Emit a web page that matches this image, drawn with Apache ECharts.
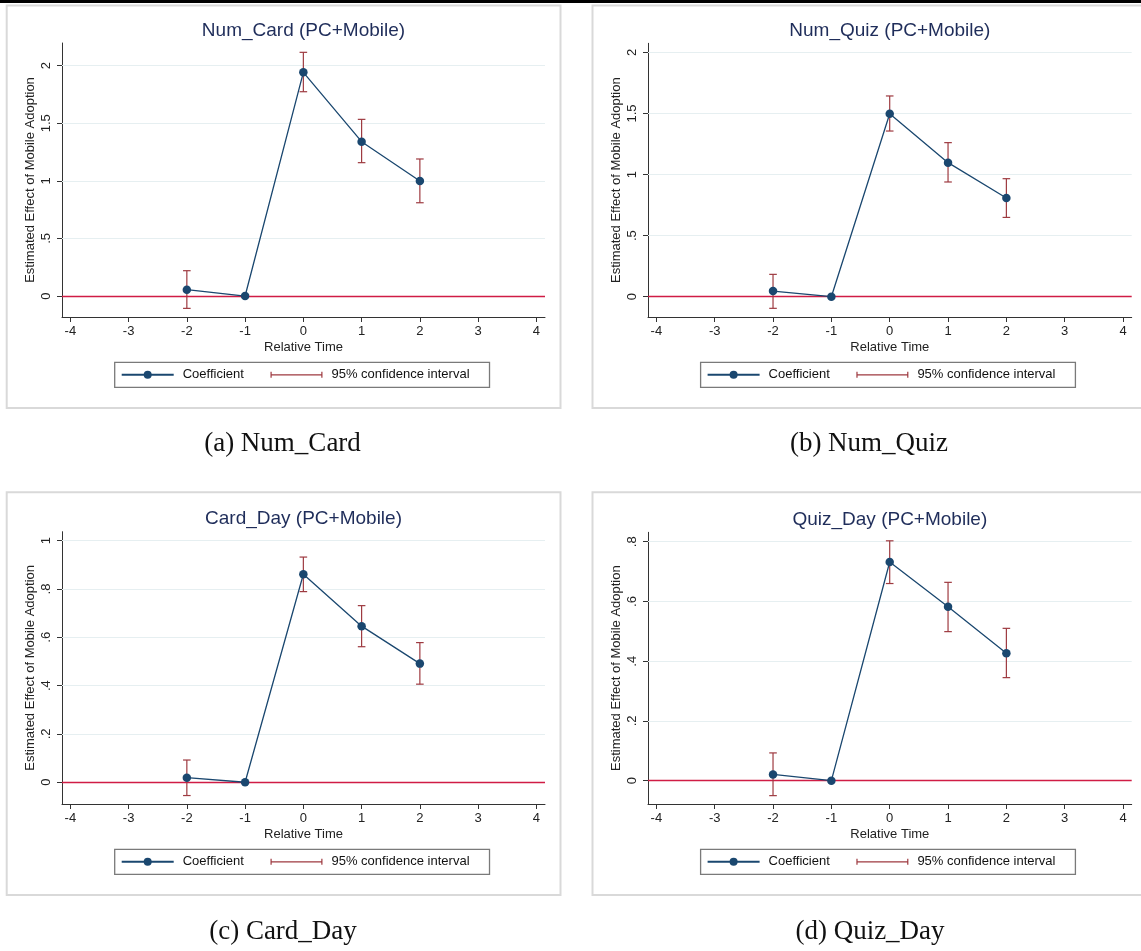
<!DOCTYPE html>
<html><head><meta charset="utf-8">
<script src="https://cdn.jsdelivr.net/npm/echarts@6/dist/echarts.min.js"></script>
<style>html,body{margin:0;padding:0;background:#fff}#c{width:1141px;height:951px}</style>
</head><body><div id="c"></div>
<script>
// ---------- data ----------
const times = [-2, -1, 0, 1, 2];
const xTicks = [-4, -3, -2, -1, 0, 1, 2, 3, 4];
const xAxisName = 'Relative Time';
const yAxisName = 'Estimated Effect of Mobile Adoption';
const seriesNames = ['Coefficient', '95% confidence interval'];

const titles = ['Num_Card (PC+Mobile)', 'Num_Quiz (PC+Mobile)', 'Card_Day (PC+Mobile)', 'Quiz_Day (PC+Mobile)'];
const captions = ['(a) Num_Card', '(b) Num_Quiz', '(c) Card_Day', '(d) Quiz_Day'];

const numCardCoef = [0.055, 0, 1.942, 1.340, 0.999];
const numCardLow  = [-0.107, null, 1.774, 1.158, 0.810];
const numCardHigh = [0.220, null, 2.116, 1.534, 1.190];

const numQuizCoef = [0.046, 0, 1.498, 1.097, 0.808];
const numQuizLow  = [-0.095, null, 1.356, 0.939, 0.649];
const numQuizHigh = [0.183, null, 1.643, 1.261, 0.966];

const cardDayCoef = [0.019, 0, 0.861, 0.646, 0.491];
const cardDayLow  = [-0.055, null, 0.789, 0.561, 0.406];
const cardDayHigh = [0.092, null, 0.932, 0.731, 0.578];

const quizDayCoef = [0.021, 0, 0.732, 0.582, 0.427];
const quizDayLow  = [-0.050, null, 0.660, 0.499, 0.345];
const quizDayHigh = [0.093, null, 0.803, 0.664, 0.510];

const yTicksNum  = [0, 0.5, 1, 1.5, 2];
const yTicksCard = [0, 0.2, 0.4, 0.6, 0.8, 1];
const yTicksQuiz = [0, 0.2, 0.4, 0.6, 0.8];

// ---------- layout / style ----------
const FONT = "'Liberation Sans', Arial, Helvetica, sans-serif";
const SERIF = "'Liberation Serif', 'Times New Roman', serif";
const NAVY = '#1a476f';
const CI = '#9e3a40';
const ZERO = '#d01c45';
const GRIDC = '#e6eff1';
const AXISC = '#333333';

const panels = [
  {coef: numCardCoef, lo: numCardLow, hi: numCardHigh, yTicks: yTicksNum, ymin: -0.182, ymax: 2.197,
   grid: {left: 62, top: 43, width: 483, height: 274}, frame: [6.7, 5.5, 553.8, 402.5],
   legend: {left: 114.7, top: 362.3}, cap: [282.5, 444]},
  {coef: numQuizCoef, lo: numQuizLow, hi: numQuizHigh, yTicks: yTicksNum, ymin: -0.166, ymax: 2.074,
   grid: {left: 648, top: 43.3, width: 483.7, height: 273.7}, frame: [592.5, 5.5, 560, 402.5],
   legend: {left: 700.6, top: 362.3}, cap: [869, 444]},
  {coef: cardDayCoef, lo: cardDayLow, hi: cardDayHigh, yTicks: yTicksCard, ymin: -0.09, ymax: 1.037,
   grid: {left: 62, top: 531.7, width: 483, height: 272.3}, frame: [6.7, 492.3, 553.8, 402.7],
   legend: {left: 114.7, top: 849.3}, cap: [283, 931.7]},
  {coef: quizDayCoef, lo: quizDayLow, hi: quizDayHigh, yTicks: yTicksQuiz, ymin: -0.078, ymax: 0.8315,
   grid: {left: 648, top: 532.3, width: 483.7, height: 271.7}, frame: [592.5, 492.3, 560, 402.7],
   legend: {left: 700.6, top: 849.3}, cap: [870, 931.7]}
];

const fmtY = v => String(+v.toFixed(3)).replace(/^0\./, '.').replace(/^-0\./, '-.');

const option = {
  animation: false,
  backgroundColor: '#fff',
  title: [], grid: [], xAxis: [], yAxis: [], legend: [], series: [],
  graphic: [
    {type: 'rect', shape: {x: 0, y: 0, width: 1141, height: 3}, style: {fill: '#000'}, z: 10}
  ]
};

panels.forEach((p, i) => {
  const g = p.grid;
  option.grid.push({left: g.left, top: g.top, width: g.width, height: g.height, containLabel: false});
  option.title.push({
    text: titles[i], left: g.left + g.width / 2, top: g.top - 22, textAlign: 'center', padding: 0,
    textStyle: {fontFamily: FONT, fontSize: 19, fontWeight: 'normal', color: '#1f2d5a'}
  });
  option.xAxis.push({
    type: 'value', gridIndex: i, min: -4.143, max: 4.148,
    name: xAxisName, nameLocation: 'middle', nameGap: 24,
    nameTextStyle: {fontFamily: FONT, fontSize: 13, color: '#222'},
    axisLine: {onZero: false, lineStyle: {color: AXISC, width: 1}},
    axisTick: {show: true, length: 5, customValues: xTicks, lineStyle: {color: AXISC}},
    axisLabel: {customValues: xTicks, margin: 8, fontFamily: FONT, fontSize: 13, color: '#222'},
    splitLine: {show: false}
  });
  option.yAxis.push({
    type: 'value', gridIndex: i, min: p.ymin, max: p.ymax,
    name: yAxisName, nameLocation: 'middle', nameGap: 25, nameRotate: 90,
    nameTextStyle: {fontFamily: FONT, fontSize: 13, color: '#222'},
    axisLine: {show: true, onZero: false, lineStyle: {color: AXISC, width: 1}},
    axisTick: {show: true, length: 5, customValues: p.yTicks, lineStyle: {color: AXISC}},
    axisLabel: {customValues: p.yTicks, rotate: 90, margin: 9, fontFamily: FONT, fontSize: 13, color: '#222',
                formatter: fmtY},
    splitLine: {show: false}
  });
  option.legend.push({
    left: p.legend.left, top: p.legend.top, orient: 'horizontal',
    padding: [6, 20, 6, 6], itemGap: 26.6, itemWidth: 52, itemHeight: 10,
    borderColor: '#7a7a7a', borderWidth: 1.3, backgroundColor: '#fff',
    selectedMode: false,
    textStyle: {fontFamily: FONT, fontSize: 13, color: '#111', padding: [0, 0, 0, 4]},
    data: [
      {name: seriesNames[0]},
      {name: seriesNames[1], icon: 'path://M0,0H1.2V6H0Z M0,2.4H52V3.6H0Z M50.8,0H52V6H50.8Z'}
    ]
  });
  const ciData = [];
  times.forEach((t, k) => { if (p.lo[k] != null) ciData.push([t, p.lo[k], p.hi[k]]); });
  const gridLines = p.yTicks.filter(v => v !== 0).map(v => ({yAxis: v, lineStyle: {color: GRIDC, width: 1, type: 'solid'}}));
  option.series.push({
    type: 'custom', name: seriesNames[1], xAxisIndex: i, yAxisIndex: i, z: 2,
    itemStyle: {color: CI},
    encode: {x: 0, y: [1, 2]},
    data: ciData,
    renderItem: (params, api) => {
      const x = api.value(0), lo = api.value(1), hi = api.value(2);
      const a = api.coord([x, hi]), b = api.coord([x, lo]);
      const w = 3.8;
      const st = {stroke: CI, lineWidth: 1.2, fill: null};
      return {type: 'group', children: [
        {type: 'line', shape: {x1: a[0], y1: a[1], x2: b[0], y2: b[1]}, style: st},
        {type: 'line', shape: {x1: a[0] - w, y1: a[1], x2: a[0] + w, y2: a[1]}, style: st},
        {type: 'line', shape: {x1: b[0] - w, y1: b[1], x2: b[0] + w, y2: b[1]}, style: st}
      ]};
    },
    markLine: {
      z: 1, silent: true, symbol: 'none', label: {show: false}, animation: false,
      data: gridLines.concat([{yAxis: 0, lineStyle: {color: ZERO, width: 1.3, type: 'solid'}}])
    }
  });
  option.series.push({
    type: 'line', name: seriesNames[0], xAxisIndex: i, yAxisIndex: i, z: 3,
    data: times.map((t, k) => [t, p.coef[k]]),
    symbol: 'circle', symbolSize: 8.5, showSymbol: true,
    lineStyle: {color: NAVY, width: 1.3},
    itemStyle: {color: NAVY, borderWidth: 0}
  });
  const f = p.frame;
  option.graphic.push({type: 'rect', shape: {x: f[0], y: f[1], width: f[2], height: f[3]},
    style: {fill: null, stroke: '#d9d9d9', lineWidth: 2}, z: -1, silent: true});
  option.graphic.push({type: 'text', x: p.cap[0], y: p.cap[1],
    style: {text: captions[i], font: '27px ' + SERIF, fill: '#111', textAlign: 'center', textVerticalAlign: 'middle'}});
});

const chart = echarts.init(document.getElementById('c'), null, {renderer: 'canvas'});
chart.setOption(option);
</script>
</body></html>
